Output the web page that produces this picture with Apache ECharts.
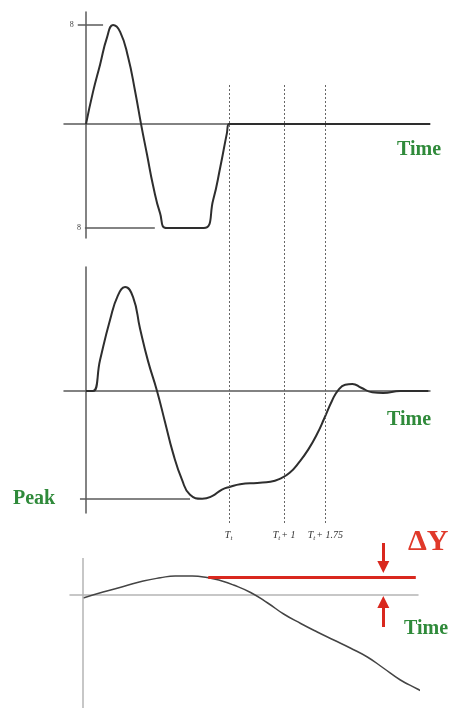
<!DOCTYPE html>
<html>
<head>
<meta charset="utf-8">
<script src="https://cdn.jsdelivr.net/npm/echarts@6/dist/echarts.min.js"></script>
<style>
  html, body { margin: 0; padding: 0; background: #fff; }
  #chart { width: 457px; height: 708px; }
</style>
</head>
<body>
<div id="chart"></div>
<script>
// time unit: T_t sits at 2.6 (pulse starts at 0)
const markerTimes = [2.6, 3.6, 4.35];
const markerLabels = ['{t|T}{s|t}', '{t|T}{s|t}{t|+ 1}', '{t|T}{s|t}{t|+ 1.75}'];

// top panel: input pulse
const inputT = [0, 0.127, 0.255, 0.382, 0.491, 0.62, 0.764, 0.891, 1.0, 1.11, 1.22, 1.345, 1.47, 2.14, 2.31, 2.44, 2.56, 2.6, 6.25];
const inputV = [0, 2.6, 4.8, 7.0, 8, 7.45, 5.41, 2.67, 0, -2.5, -5.0, -7.19, -8.4, -8.4, -6.14, -3.47, -0.73, 0, 0];
const inputHigh = 8;
const inputLow = -8.4;

// middle panel: response
const respT = [0, 0.127, 0.255, 0.436, 0.582, 0.709, 0.855, 0.982, 1.127, 1.29, 1.436, 1.58, 1.745, 1.89, 2.11, 2.29, 2.47, 2.62, 2.8, 3.11, 3.35, 3.53, 3.7, 3.87, 4.04, 4.2, 4.33, 4.47, 4.58, 4.71, 4.84, 5.0, 5.2, 5.4, 5.71, 6.22];
const respV = [0, 0, 2.38, 5.46, 7.38, 8, 7.23, 4.8, 2.3, 0, -2.4, -4.77, -6.85, -8.0, -8.3, -8.1, -7.6, -7.38, -7.18, -7.08, -7.0, -6.75, -6.3, -5.5, -4.5, -3.3, -2.1, -0.75, 0.05, 0.48, 0.54, 0.25, -0.1, -0.15, 0, 0];
const peakLevel = -8.3;

// bottom panel: drift
const driftT = [0, 0.36, 0.73, 1.09, 1.4, 1.67, 1.98, 2.25, 2.49, 2.73, 3.04, 3.35, 3.64, 3.95, 4.25, 4.55, 4.85, 5.16, 5.45, 5.76, 6.07, 6.16];
const driftV = [-0.3, 0.3, 0.85, 1.4, 1.72, 1.9, 1.9, 1.75, 1.45, 1.0, 0.25, -0.8, -1.9, -2.85, -3.7, -4.5, -5.3, -6.2, -7.3, -8.5, -9.4, -9.7];
const deltaLevel = 1.8;
const deltaStart = 2.27;
const deltaEnd = 6.04;
const arrowT = 5.45;
const arrowDown = [5.2, 2.8];
const arrowUp = [-3.2, -0.7];

const green = '#2f8a3a';
const red = '#d9281e';
const zip = (a, b) => a.map((v, i) => [v, b[i]]);

const chart = echarts.init(document.getElementById('chart'));

function plainAxis(gi, min, max, lineColor) {
  return {
    gridIndex: gi, type: 'value', min: min, max: max,
    axisLine: lineColor ? { onZero: true, lineStyle: { color: lineColor, width: 1.5 } } : { show: false },
    axisTick: { show: false }, axisLabel: { show: false }, splitLine: { show: false }
  };
}

const curveBase = { type: 'line', showSymbol: false, smooth: 0.5 };

const option = {
  animation: false,
  backgroundColor: '#fff',
  grid: [
    { left: 64, top: 12, width: 366, height: 226 },
    { left: 64, top: 267, width: 366, height: 246 },
    { left: 70, top: 540, width: 348, height: 168 },
    { left: 64, top: 85, width: 366, height: 438 }
  ],
  xAxis: [
    plainAxis(0, -0.4, 6.25, '#5a5a5a'),
    plainAxis(1, -0.4, 6.25, '#5a5a5a'),
    plainAxis(2, -0.24, 6.08, '#b5b5b5'),
    plainAxis(3, -0.4, 6.25, null)
  ],
  yAxis: [
    plainAxis(0, -9.2, 9.05, '#5a5a5a'),
    plainAxis(1, -9.4, 9.55, '#5a5a5a'),
    plainAxis(2, -11.3, 5.5, null),
    plainAxis(3, 0, 1, null)
  ],
  series: [
    Object.assign({}, curveBase, {
      xAxisIndex: 0, yAxisIndex: 0,
      data: zip(inputT, inputV),
      lineStyle: { color: '#2e2e2e', width: 2 },
      markLine: {
        silent: true, symbol: 'none',
        lineStyle: { type: 'solid', color: '#5a5a5a', width: 1.5 },
        label: { show: true, position: 'start', formatter: '8', distance: 4,
          fontFamily: 'Liberation Serif', fontSize: 8, color: '#444' },
        data: [
          [{ coord: [-0.15, inputHigh] }, { coord: [0.31, inputHigh] }],
          [{ coord: [-0.02, inputLow] }, { coord: [1.25, inputLow] }]
        ]
      }
    }),
    Object.assign({}, curveBase, {
      xAxisIndex: 1, yAxisIndex: 1,
      data: zip(respT, respV),
      lineStyle: { color: '#2e2e2e', width: 2 },
      markLine: {
        silent: true, symbol: 'none', label: { show: false },
        lineStyle: { type: 'solid', color: '#5a5a5a', width: 1.5 },
        data: [[{ coord: [-0.11, peakLevel] }, { coord: [1.89, peakLevel] }]]
      }
    }),
    Object.assign({}, curveBase, {
      xAxisIndex: 2, yAxisIndex: 2,
      data: zip(driftT, driftV),
      lineStyle: { color: '#444', width: 1.5 },
      markLine: {
        silent: true, symbol: 'none', label: { show: false },
        data: [
          [{ coord: [0, -11.3], lineStyle: { color: '#b5b5b5', width: 1.5, type: 'solid' } }, { coord: [0, 3.7] }],
          [{ coord: [deltaStart, deltaLevel], lineStyle: { color: red, width: 3, type: 'solid' } }, { coord: [deltaEnd, deltaLevel] }]
        ]
      }
    }),
    {
      type: 'line', xAxisIndex: 2, yAxisIndex: 2, data: [], clip: false,
      markLine: {
        silent: true, symbol: ['none', 'triangle'], symbolSize: [12, 12],
        label: { show: false },
        lineStyle: { color: red, width: 3, type: 'solid' },
        itemStyle: { color: red },
        data: [
          [{ coord: [arrowT, arrowDown[0]] }, { coord: [arrowT, arrowDown[1]] }],
          [{ coord: [arrowT, arrowUp[0]] }, { coord: [arrowT, arrowUp[1]] }]
        ]
      }
    },
    {
      type: 'line', xAxisIndex: 3, yAxisIndex: 3, data: [],
      markLine: {
        silent: true, symbol: 'none',
        lineStyle: { color: '#666', width: 1, type: [2, 2] },
        label: {
          show: true, position: 'start', distance: 6,
          rich: {
            t: { fontFamily: 'Liberation Serif', fontStyle: 'italic', fontSize: 10, color: '#333' },
            s: { fontFamily: 'Liberation Serif', fontStyle: 'italic', fontSize: 7, color: '#333', verticalAlign: 'bottom', padding: [6, 1, 0, 0] }
          }
        },
        data: markerTimes.map((t, i) => ({ xAxis: t, label: { formatter: markerLabels[i] } }))
      }
    }
  ],
  graphic: [
    { type: 'text', left: 397, top: 140, style: { text: 'Time', font: 'bold 20px "Liberation Serif"', fill: green } },
    { type: 'text', left: 387, top: 410, style: { text: 'Time', font: 'bold 20px "Liberation Serif"', fill: green } },
    { type: 'text', left: 404, top: 619, style: { text: 'Time', font: 'bold 20px "Liberation Serif"', fill: green } },
    { type: 'text', left: 13, top: 489, style: { text: 'Peak', font: 'bold 20px "Liberation Serif"', fill: green } },
    { type: 'text', left: 408, top: 527, style: { text: 'ΔY', font: 'bold 30px "Liberation Serif"', fill: '#e0392a' } }
  ]
};

chart.setOption(option);
</script>
</body>
</html>
